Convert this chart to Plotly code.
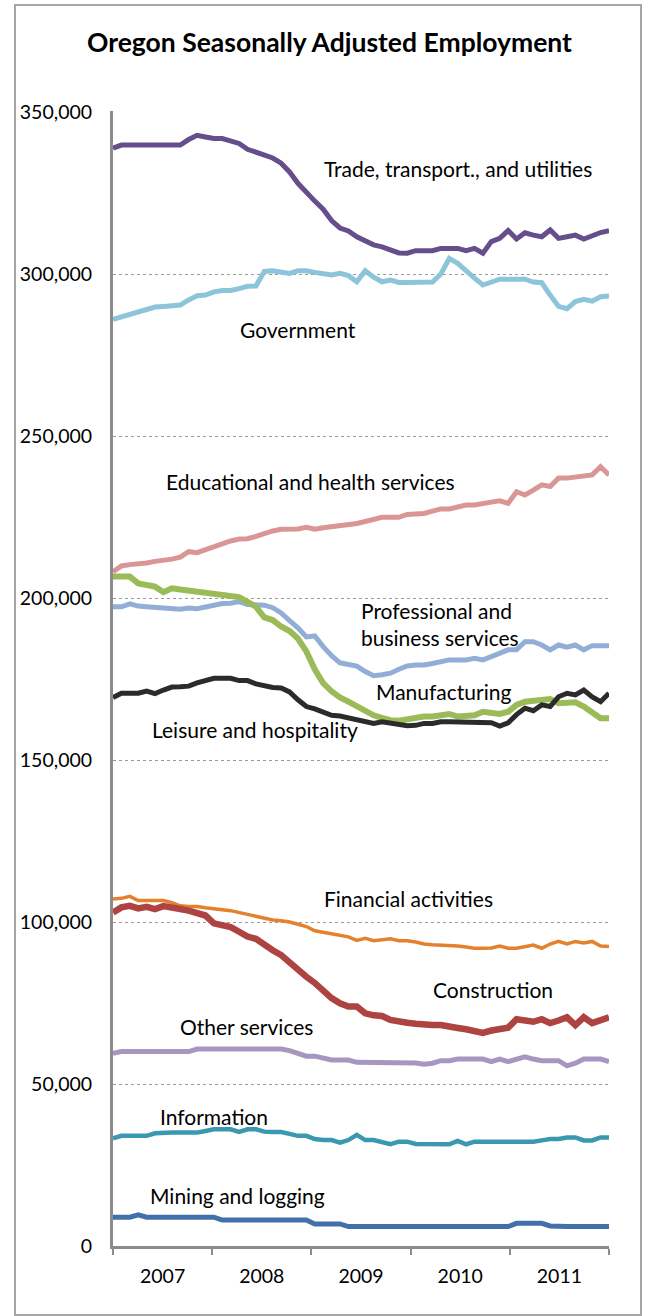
import plotly.graph_objects as go

# Monthly employment, thousands, Jan 2007 onward (60 months)
trade = [338.8, 339.8, 339.8, 339.8, 339.8, 339.8, 339.8, 339.8, 339.8, 341.5,
         342.8, 342.3, 341.8, 341.8, 341.0, 340.3, 338.5, 337.5, 336.8, 335.8,
         334.2, 331.5, 328.0, 325.0, 322.5, 320.0, 316.5, 314.2, 313.3, 311.5,
         310.3, 309.0, 308.4, 307.3, 306.5, 306.4, 307.2, 307.2, 307.2, 307.9,
         307.9, 307.9, 307.2, 307.9, 306.4, 310.0, 311.0, 313.4, 310.8, 312.7,
         312.0, 311.5, 313.6, 311.0, 311.5, 312.0, 310.8, 312.0, 312.8, 313.4]
government = [286.0, 286.8, 287.3, 288.0, 289.0, 289.8, 290.0, 290.3, 290.4, 292.0,
              293.3, 293.5, 294.5, 294.9, 294.9, 295.5, 296.2, 296.3, 300.8, 301.0,
              300.5, 300.2, 301.0, 301.0, 300.5, 300.2, 299.7, 300.2, 299.5, 297.6,
              301.0, 299.0, 297.6, 298.1, 297.4, 297.4, 297.4, 297.4, 297.5, 300.0,
              304.8, 303.3, 300.8, 298.7, 296.6, 297.6, 298.4, 298.4, 298.4, 298.4,
              297.5, 297.3, 293.5, 290.0, 289.3, 291.5, 292.2, 291.6, 293.0, 293.2]
education = [208.1, 209.9, 210.3, 210.5, 210.8, 211.3, 211.5, 212.0, 212.6, 214.3,
             214.0, 215.0, 215.8, 216.8, 217.6, 218.2, 218.3, 219.0, 220.0, 220.7,
             221.2, 221.3, 221.3, 221.8, 221.2, 221.7, 222.0, 222.2, 222.6, 223.0,
             223.6, 224.4, 224.9, 224.9, 224.9, 225.8, 226.1, 226.1, 226.8, 227.5,
             227.5, 228.0, 228.7, 228.7, 229.0, 229.6, 230.0, 229.2, 232.8, 231.8,
             233.3, 234.9, 234.4, 237.0, 237.0, 237.4, 237.7, 238.0, 240.5, 238.0]
manufacturing = [206.6, 206.6, 206.6, 204.5, 203.8, 203.5, 201.8, 203.0, 202.6, 202.3,
                 201.9, 201.7, 201.5, 201.2, 200.8, 200.3, 198.8, 197.3, 194.0, 193.2,
                 191.2, 189.8, 187.5, 183.5, 178.0, 173.7, 171.2, 169.3, 168.0, 166.5,
                 165.0, 163.8, 163.0, 162.3, 162.1, 162.6, 163.2, 163.4, 163.4, 163.8,
                 164.2, 163.4, 163.5, 163.8, 164.9, 164.5, 164.2, 164.9, 167.0, 168.0,
                 168.3, 168.8, 168.8, 167.5, 167.5, 167.8, 166.5, 164.6, 162.9, 162.9]
professional = [197.3, 197.3, 198.2, 197.5, 197.3, 197.1, 196.6, 196.5, 196.5, 196.9,
                196.7, 197.2, 197.8, 198.3, 198.4, 198.9, 198.0, 197.8, 197.8, 197.0,
                195.4, 193.0, 190.8, 188.0, 188.3, 185.0, 182.2, 180.0, 179.4, 179.0,
                177.3, 176.0, 176.3, 176.8, 178.0, 179.0, 179.3, 179.3, 179.8, 180.3,
                180.9, 180.9, 180.9, 181.4, 180.9, 181.9, 183.0, 184.0, 184.0, 186.5,
                186.5, 185.5, 184.0, 185.5, 184.8, 185.5, 184.0, 185.3, 185.3, 185.3]
leisure = [169.3, 170.6, 170.6, 170.6, 171.3, 170.5, 171.6, 172.5, 172.6, 172.8,
           173.8, 174.5, 175.2, 175.2, 175.2, 174.5, 174.5, 173.5, 172.8, 172.4,
           172.2, 171.0, 168.6, 166.5, 165.8, 164.8, 163.8, 163.6, 163.0, 162.2,
           161.8, 161.3, 161.8, 161.3, 160.9, 160.6, 160.7, 161.3, 161.3, 161.8,
           161.8, 161.8, 161.8, 161.8, 161.5, 161.5, 160.5, 161.5, 164.0, 166.0,
           165.2, 167.0, 166.5, 169.5, 170.6, 170.1, 171.6, 169.5, 168.0, 170.6]
financial = [107.1, 107.3, 107.9, 106.6, 106.6, 106.6, 106.6, 106.0, 105.0, 104.8,
             104.8, 104.4, 104.0, 103.8, 103.5, 102.9, 102.3, 101.6, 101.0, 100.6,
             100.4, 100.0, 99.3, 98.6, 97.3, 96.8, 96.5, 96.0, 95.4, 94.3,
             95.0, 94.2, 94.5, 94.8, 94.2, 94.2, 93.8, 93.2, 93.0, 92.9,
             92.8, 92.6, 92.3, 91.9, 91.9, 92.0, 92.6, 91.9, 91.9, 92.4,
             92.9, 91.9, 93.2, 94.0, 93.2, 94.0, 93.5, 94.0, 92.6, 92.4]
construction = [102.9, 104.5, 105.0, 104.2, 104.7, 104.0, 104.9, 104.7, 104.0, 103.5,
                102.9, 102.0, 99.6, 99.1, 98.4, 97.0, 95.5, 94.8, 92.8, 91.3,
                89.8, 87.5, 85.0, 83.1, 81.2, 78.5, 76.5, 74.9, 73.9, 73.9,
                71.8, 71.2, 71.0, 69.8, 69.2, 68.9, 68.6, 68.2, 68.2, 68.2,
                68.0, 67.3, 66.9, 66.3, 65.8, 66.5, 66.9, 67.4, 70.0, 69.5,
                69.2, 70.0, 68.8, 69.6, 70.6, 68.2, 70.6, 68.8, 69.5, 70.6]
other_services = [59.5, 60.0, 60.0, 60.0, 60.0, 60.0, 60.0, 60.0, 60.0, 60.0,
                  60.8, 60.8, 60.8, 60.8, 60.8, 60.8, 60.8, 60.8, 60.8, 60.8,
                  60.8, 60.3, 59.4, 58.6, 58.6, 58.0, 57.4, 57.4, 57.4, 56.7,
                  56.7, 56.7, 56.7, 56.7, 56.7, 56.7, 56.5, 56.1, 56.4, 57.2,
                  57.2, 57.7, 57.7, 57.7, 57.7, 56.9, 57.7, 56.9, 57.6, 58.4,
                  57.7, 57.2, 57.2, 57.2, 55.6, 56.4, 57.7, 57.7, 57.7, 56.9]
information = [33.2, 34.0, 34.0, 34.0, 34.0, 34.8, 35.0, 35.0, 35.0, 35.0,
               35.0, 35.5, 36.0, 36.0, 36.0, 35.2, 36.0, 36.0, 35.3, 35.2,
               35.2, 34.6, 34.0, 34.0, 33.0, 32.7, 32.7, 31.9, 32.7, 34.3,
               32.7, 32.7, 32.2, 31.4, 32.2, 32.2, 31.5, 31.4, 31.4, 31.4,
               31.4, 32.4, 31.4, 32.2, 32.2, 32.2, 32.2, 32.2, 32.2, 32.2,
               32.2, 32.6, 33.0, 33.0, 33.5, 33.5, 32.6, 32.6, 33.5, 33.5]
mining = [8.9, 8.9, 8.9, 9.6, 8.9, 8.9, 8.9, 8.9, 8.9, 8.9,
          8.9, 8.9, 8.9, 8.0, 8.0, 8.0, 8.0, 8.0, 8.0, 8.0,
          8.0, 8.0, 8.0, 8.0, 6.8, 6.8, 6.8, 6.8, 6.0, 6.0,
          6.0, 6.0, 6.0, 6.0, 6.0, 6.0, 6.0, 6.0, 6.0, 6.0,
          6.0, 6.0, 6.0, 6.0, 6.0, 6.0, 6.0, 6.0, 7.0, 7.0,
          7.0, 7.0, 6.2, 6.0, 6.0, 6.0, 6.0, 6.0, 6.0, 6.0]

years = ["2007", "2008", "2009", "2010", "2011"]
y_ticks = [0, 50000, 100000, 150000, 200000, 250000, 300000, 350000]

FONT = "Lato, Carlito, Calibri, sans-serif"
n = len(trade)
months = list(range(n))
seg = (n - 1) / len(years)
year_edges = [i * seg for i in range(len(years) + 1)]
year_mids = [(i + 0.5) * seg for i in range(len(years))]

series = [
    ("Mining and logging", mining, "#4270AA", 5),
    ("Information", information, "#3A98B0", 4.5),
    ("Other services", other_services, "#A697C0", 5),
    ("Financial activities", financial, "#E4812F", 3.5),
    ("Construction", construction, "#AD4442", 6.5),
    ("Government", government, "#8CC4D9", 5),
    ("Trade, transport., and utilities", trade, "#664D8C", 5),
    ("Professional and business services", professional, "#93AED6", 5),
    ("Educational and health services", education, "#D99694", 5),
    ("Manufacturing", manufacturing, "#9BBB59", 6),
    ("Leisure and hospitality", leisure, "#2B2B2B", 5),
]

fig = go.Figure()
for name, vals, color, width in series:
    fig.add_trace(go.Scatter(
        x=months, y=[v * 1000 for v in vals], mode="lines", name=name,
        line=dict(color=color, width=width), showlegend=False,
        hovertemplate="%{y:,.0f}<extra>" + name + "</extra>"))

labels = [
    ("Trade, transport., and utilities", 24.86, 332700),
    ("Government", 14.87, 283000),
    ("Educational and health services", 6.07, 236100),
    ("Professional and<br>business services", 29.26, 192000),
    ("Manufacturing", 31.05, 171000),
    ("Leisure and hospitality", 4.40, 159300),
    ("Financial activities", 24.86, 107400),
    ("Construction", 37.83, 79300),
    ("Other services", 7.73, 67600),
    ("Information", 5.35, 40100),
    ("Mining and logging", 4.16, 15700),
]
for text, lx, ly in labels:
    fig.add_annotation(x=lx, y=ly, xref="x", yref="y", text=text, showarrow=False,
                       xanchor="left", yanchor="middle", align="left",
                       font=dict(family=FONT, size=21, color="#000000"))

L, R, T, B = 113, 41, 111, 70
W, H = 650, 1316
pw, ph = W - L - R, H - T - B
y_top = 350000 * ph / (ph - 1)   # leaves 1px so the 350,000 gridline is drawn
fig.add_shape(type="rect", xref="paper", yref="paper",
              x0=(15 - L) / pw, x1=(641 - L) / pw,
              y0=((H - B) - 1315) / ph, y1=((H - B) - 5) / ph,
              line=dict(color="#A6A6A6", width=2), fillcolor="rgba(0,0,0,0)", layer="below")

fig.update_layout(
    width=W, height=H,
    margin=dict(l=L, r=R, t=T, b=B, pad=0),
    paper_bgcolor="white", plot_bgcolor="white",
    font=dict(family=FONT, color="#000000"),
    title=dict(text="<b>Oregon Seasonally Adjusted Employment</b>",
               x=329.5 / W, xref="container", xanchor="center",
               y=1 - 43 / H, yref="container", yanchor="middle",
               font=dict(family=FONT, size=26.5, color="#000000")),
    xaxis=dict(range=[0, n - 1], tickvals=year_mids, ticktext=years, ticks="",
               tickfont=dict(family=FONT, size=19.5, color="#000000"),
               ticklabelstandoff=11,
               minor=dict(tickvals=year_edges, ticks="outside", ticklen=6,
                          tickwidth=2, tickcolor="#8C8C8C", showgrid=False),
               showline=True, linecolor="#8C8C8C", linewidth=3,
               showgrid=False, zeroline=False),
    yaxis=dict(range=[0, y_top], tickvals=y_ticks, tickformat=",d",
               showgrid=True, gridcolor="#9A9A9A", griddash="dot", gridwidth=1,
               showline=True, linecolor="#8C8C8C", linewidth=3,
               ticks="", zeroline=False, ticklabelstandoff=14,
               tickfont=dict(family=FONT, size=19.5, color="#000000")),
)

fig.write_html("out.html", config={"displayModeBar": False},
               post_script="document.body.style.margin='0';")
